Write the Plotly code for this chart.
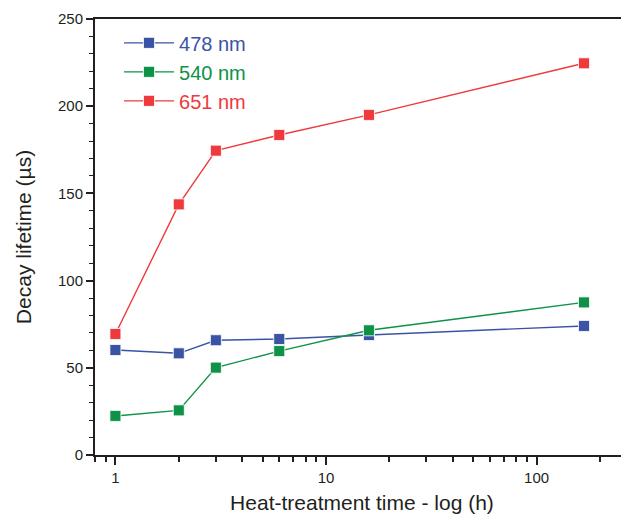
import math
import plotly.graph_objects as go

hours = [1, 2, 3, 6, 16, 168]
series_names = ["478 nm", "540 nm", "651 nm"]
lifetime_478 = [60.2, 58.3, 65.8, 66.5, 68.8, 74.0]
lifetime_540 = [22.4, 25.6, 50.1, 59.6, 71.5, 87.5]
lifetime_651 = [69.4, 143.7, 174.5, 183.5, 195.0, 224.6]
colors = ["#3a53a4", "#0e9247", "#ee3a3c"]

x_major = [1, 10, 100]
x_minor = [0.8, 0.9, 2, 3, 4, 5, 6, 7, 8, 9, 20, 30, 40, 50, 60, 70, 80, 90, 200]

fig = go.Figure()
for name, vals, c in zip(series_names, [lifetime_478, lifetime_540, lifetime_651], colors):
    fig.add_trace(go.Scatter(
        x=hours, y=vals, mode="lines+markers",
        name=f"<span style='color:{c}'>{name}</span>",
        line=dict(color=c, width=1.4),
        marker=dict(symbol="square", size=11, color=c, line=dict(color="white", width=0.8)),
    ))

font_family = "Liberation Sans, Arial, sans-serif"
# page body has an 8px default margin, so the figure is shrunk by 8px
fig.update_layout(
    width=621, height=513,
    margin=dict(l=87, r=0, t=11, b=66),
    paper_bgcolor="white", plot_bgcolor="white",
    font=dict(family=font_family, color="#231f20", size=15),
    showlegend=True,
    legend=dict(
        x=0.045, y=0.99, xanchor="left", yanchor="top",
        font=dict(size=20, family=font_family),
        bgcolor="rgba(0,0,0,0)", itemwidth=50, tracegroupgap=0,
    ),
)
fig.update_xaxes(
    type="log", range=[math.log10(0.8), 2.439],
    tickvals=x_major, ticktext=[str(v) for v in x_major],
    ticks="outside", ticklen=8, tickwidth=1.5, tickcolor="#231f20",
    minor=dict(tickvals=x_minor, ticks="outside", ticklen=5, tickwidth=1.5, tickcolor="#231f20"),
    showline=True, linewidth=2, linecolor="#231f20", mirror=True,
    showgrid=False, zeroline=False,
    tickfont=dict(size=15),
    title=dict(text="Heat-treatment time - log (h)", font=dict(size=21), standoff=10),
)
fig.update_yaxes(
    range=[0, 250], tickvals=[0, 50, 100, 150, 200, 250],
    ticks="outside", ticklen=7, tickwidth=1.5, tickcolor="#231f20",
    minor=dict(dtick=10, ticks="outside", ticklen=4, tickwidth=1.2, tickcolor="#231f20"),
    showline=True, linewidth=2, linecolor="#231f20",
    showgrid=False, zeroline=False,
    tickfont=dict(size=15),
    title=dict(text="Decay lifetime (µs)", font=dict(size=21), standoff=21),
)

fig.write_html("out.html")
